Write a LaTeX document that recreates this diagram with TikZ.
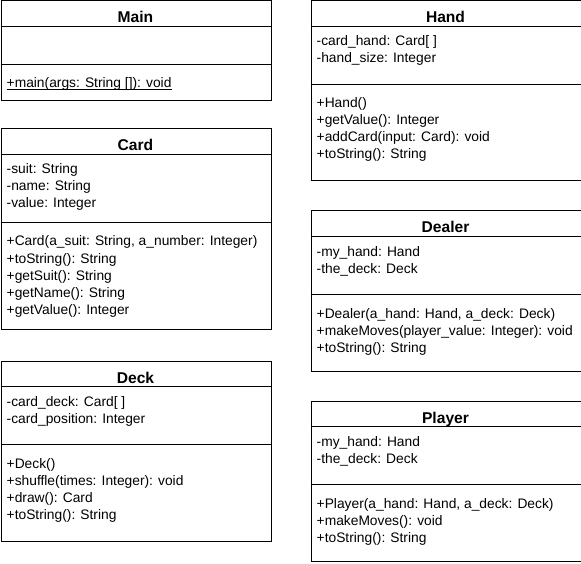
\documentclass[tikz,border=0pt]{standalone}
\usepackage{fontspec}
\setmainfont{Liberation Sans}
\begin{document}
\begin{tikzpicture}[x=1pt,y=-1pt,
  umlbox/.style={draw=black, line width=1pt, anchor=north west, inner sep=0pt, minimum width=270pt},
  sepline/.style={draw=black, line width=1pt},
  ttl/.style={anchor=base, inner sep=0pt, font=\fontsize{15.6}{18}\selectfont\bfseries},
  mem/.style={anchor=base west, inner sep=0pt, font=\fontsize{13.8}{17}\selectfont}]
\useasboundingbox (0,0) rectangle (581,564);

% ---------- Main ----------
\node[umlbox, minimum height=100pt] (main) at (0.5,0.5) {};
\draw[sepline] (0.5,26.5) -- (270.5,26.5);
\draw[sepline] (0.5,64.5) -- (270.5,64.5);
\node[ttl] (mainT) at (135.5,23) {Main};
\node[mem] (mainM1) at (6.5,88) {+main(args: String []): void};
\draw[line width=0.8pt] ([yshift=-1.6pt]mainM1.base west) -- ([yshift=-1.6pt]mainM1.base east);

% ---------- Card ----------
\node[umlbox, minimum height=200pt] (card) at (0.5,128.5) {};
\draw[sepline] (0.5,154.5) -- (270.5,154.5);
\draw[sepline] (0.5,222.5) -- (270.5,222.5);
\node[ttl] (cardT) at (135.5,151) {Card};
\node[mem] (cardA1) at (6.5,174) {-suit: String};
\node[mem] (cardA2) at (6.5,191) {-name: String};
\node[mem] (cardA3) at (6.5,208) {-value: Integer};
\node[mem] (cardM1) at (6.5,246) {+Card(a\_suit: String, a\_number: Integer)};
\node[mem] (cardM2) at (6.5,263) {+toString(): String};
\node[mem] (cardM3) at (6.5,280) {+getSuit(): String};
\node[mem] (cardM4) at (6.5,297) {+getName(): String};
\node[mem] (cardM5) at (6.5,314) {+getValue(): Integer};

% ---------- Deck ----------
\node[umlbox, minimum height=180pt] (deck) at (0.5,360.5) {};
\draw[sepline] (0.5,386.5) -- (270.5,386.5);
\draw[sepline] (0.5,444.5) -- (270.5,444.5);
\node[ttl] (deckT) at (135.5,383) {Deck};
\node[mem] (deckA1) at (6.5,406) {-card\_deck: Card[ ]};
\node[mem] (deckA2) at (6.5,423) {-card\_position: Integer};
\node[mem] (deckM1) at (6.5,468) {+Deck()};
\node[mem] (deckM2) at (6.5,485) {+shuffle(times: Integer): void};
\node[mem] (deckM3) at (6.5,502) {+draw(): Card};
\node[mem] (deckM4) at (6.5,519) {+toString(): String};

% ---------- Hand ----------
\node[umlbox, minimum height=180pt] (hand) at (310.5,0.5) {};
\draw[sepline] (310.5,26.5) -- (580.5,26.5);
\draw[sepline] (310.5,84.5) -- (580.5,84.5);
\node[ttl] (handT) at (445.5,23) {Hand};
\node[mem] (handA1) at (316.5,46) {-card\_hand: Card[ ]};
\node[mem] (handA2) at (316.5,63) {-hand\_size: Integer};
\node[mem] (handM1) at (316.5,108) {+Hand()};
\node[mem] (handM2) at (316.5,125) {+getValue(): Integer};
\node[mem] (handM3) at (316.5,142) {+addCard(input: Card): void};
\node[mem] (handM4) at (316.5,159) {+toString(): String};

% ---------- Dealer ----------
\node[umlbox, minimum height=160pt] (dealer) at (310.5,210.5) {};
\draw[sepline] (310.5,236.5) -- (580.5,236.5);
\draw[sepline] (310.5,294.5) -- (580.5,294.5);
\node[ttl] (dealerT) at (445.5,233) {Dealer};
\node[mem] (dealerA1) at (316.5,256) {-my\_hand: Hand};
\node[mem] (dealerA2) at (316.5,273) {-the\_deck: Deck};
\node[mem] (dealerM1) at (316.5,318) {+Dealer(a\_hand: Hand, a\_deck: Deck)};
\node[mem] (dealerM2) at (316.5,335) {+makeMoves(player\_value: Integer): void};
\node[mem] (dealerM3) at (316.5,352) {+toString(): String};

% ---------- Player ----------
\node[umlbox, minimum height=160pt] (player) at (310.5,400.5) {};
\draw[sepline] (310.5,426.5) -- (580.5,426.5);
\draw[sepline] (310.5,484.5) -- (580.5,484.5);
\node[ttl] (playerT) at (445.5,423) {Player};
\node[mem] (playerA1) at (316.5,446) {-my\_hand: Hand};
\node[mem] (playerA2) at (316.5,463) {-the\_deck: Deck};
\node[mem] (playerM1) at (316.5,508) {+Player(a\_hand: Hand, a\_deck: Deck)};
\node[mem] (playerM2) at (316.5,525) {+makeMoves(): void};
\node[mem] (playerM3) at (316.5,542) {+toString(): String};
\end{tikzpicture}
\end{document}
